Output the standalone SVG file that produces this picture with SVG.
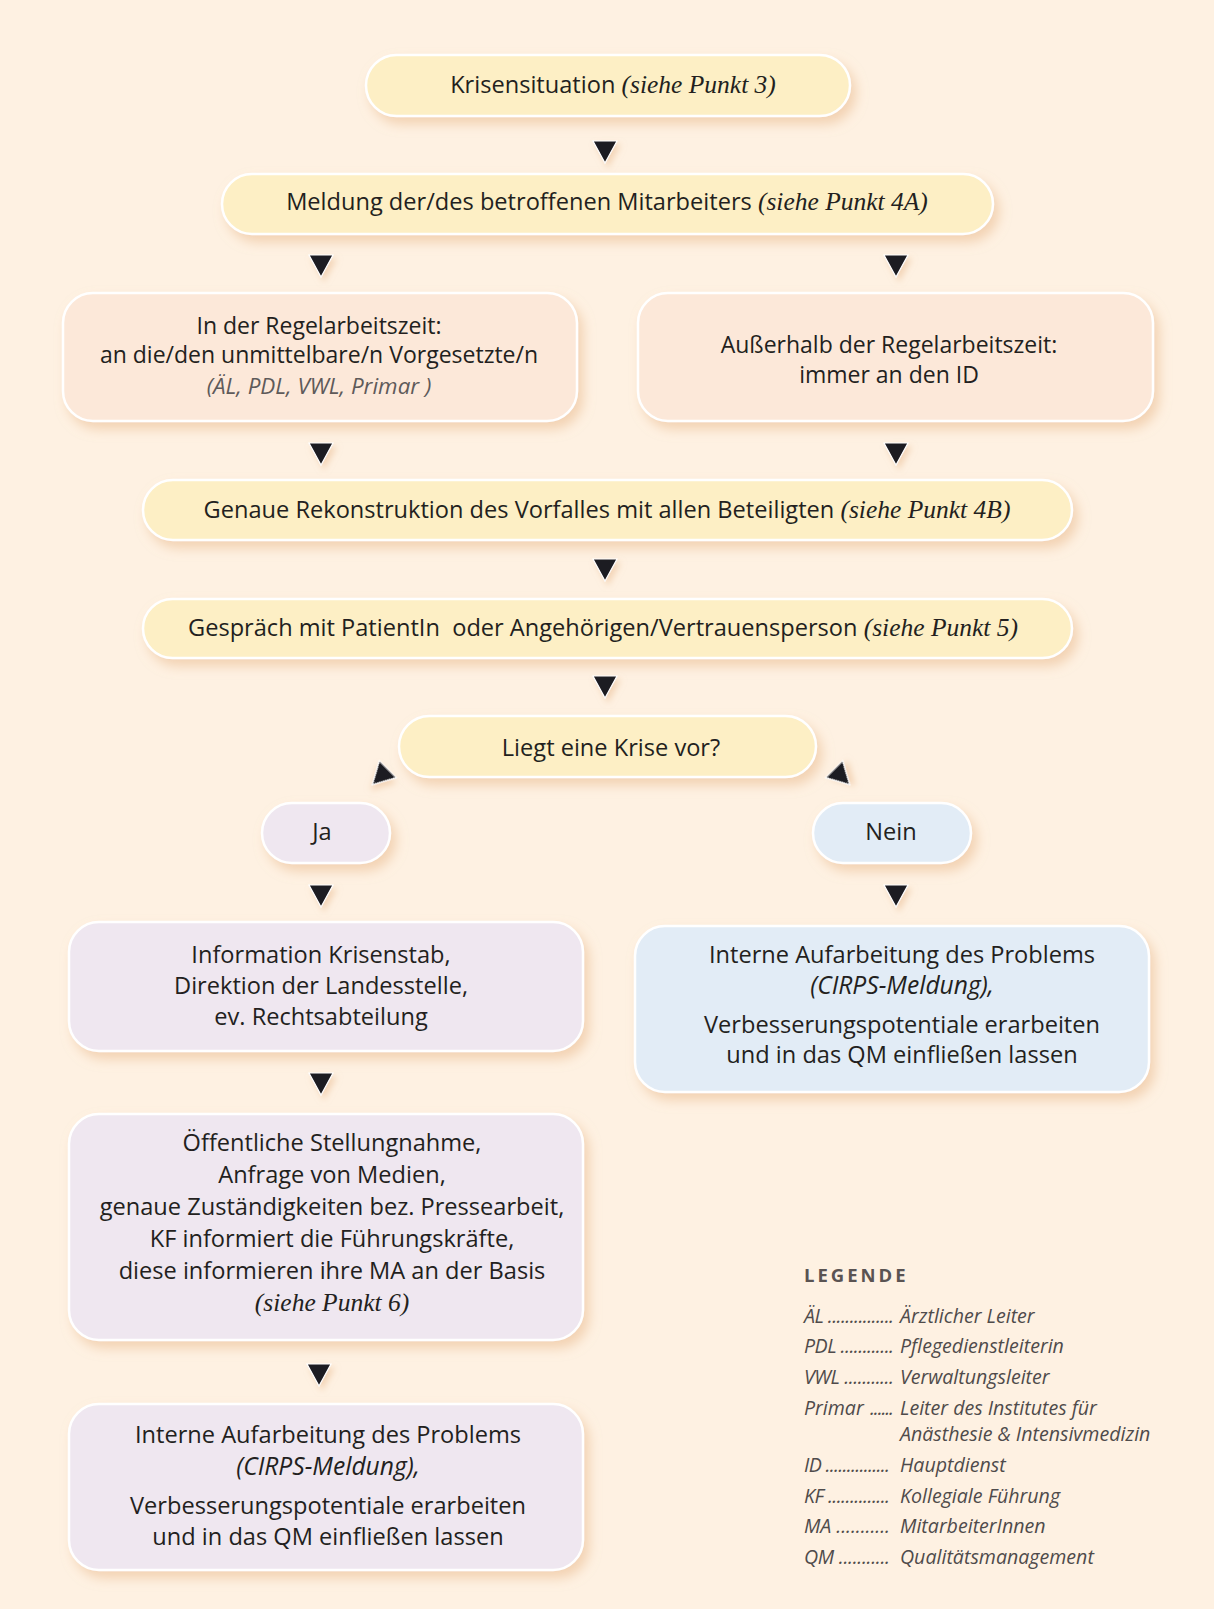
<svg xmlns="http://www.w3.org/2000/svg" width="1214" height="1609" viewBox="0 0 1214 1609">
<style>
.t{font-family:"Open Sans","Noto Sans",sans-serif;font-size:23.6px;fill:#231f20;text-anchor:middle}
.s{font-size:23px}
.ser{font-family:"Liberation Serif",serif;font-style:italic;font-size:25.5px}
.it{font-style:italic;font-size:24.6px}
.gr{fill:#5e5a5a;font-size:22.4px}
.box{stroke:#ffffff;stroke-width:2.5;filter:url(#sh)}
.y{fill:#fdefc5}
.p{fill:#fce8d9}
.l{fill:#efe7f0}
.b{fill:#e2ecf6}
.arr{fill:#1f1d22;stroke:#ffffff;stroke-width:1.2;filter:url(#sh2)}
.lg{font-family:"Open Sans","Noto Sans",sans-serif;font-size:19.6px;font-style:italic;fill:#4f4b4b}
.lh{font-family:"Open Sans","Noto Sans",sans-serif;font-size:18.5px;font-weight:bold;letter-spacing:3px;fill:#5a5352}
</style>
<defs>
<filter id="sh" x="-20%" y="-30%" width="140%" height="170%">
<feDropShadow dx="5" dy="7" stdDeviation="6" flood-color="#e9b98c" flood-opacity="0.55"/>
</filter>
<filter id="sh2" x="-50%" y="-50%" width="200%" height="200%">
<feDropShadow dx="3" dy="4" stdDeviation="3" flood-color="#e9b98c" flood-opacity="0.5"/>
</filter>
<polygon id="ah" points="-12,-11 12,-11 0,11"/>
</defs>
<rect x="0" y="0" width="1214" height="1609" fill="#fef1e2"/>

<g id="connectors">
<use href="#ah" class="arr" transform="translate(605,152)"/>
<use href="#ah" class="arr" transform="translate(321,266)"/>
<use href="#ah" class="arr" transform="translate(896,266)"/>
<use href="#ah" class="arr" transform="translate(321,454)"/>
<use href="#ah" class="arr" transform="translate(896,454)"/>
<use href="#ah" class="arr" transform="translate(605,570)"/>
<use href="#ah" class="arr" transform="translate(605,687)"/>
<use href="#ah" class="arr" transform="translate(380,777) rotate(45)"/>
<use href="#ah" class="arr" transform="translate(842,777) rotate(-45)"/>
<use href="#ah" class="arr" transform="translate(321,896)"/>
<use href="#ah" class="arr" transform="translate(896,896)"/>
<use href="#ah" class="arr" transform="translate(321,1084)"/>
<use href="#ah" class="arr" transform="translate(319,1375)"/>
</g>

<g id="n-krisensituation">
<rect class="box y" x="366" y="55" width="484" height="61" rx="30.5"/>
<text class="t" x="613" y="93">Krisensituation <tspan class="ser">(siehe Punkt 3)</tspan></text>
</g>
<g id="n-meldung">
<rect class="box y" x="222" y="174" width="771" height="60" rx="30"/>
<text class="t" x="607" y="210">Meldung der/des betroffenen Mitarbeiters <tspan class="ser">(siehe Punkt 4A)</tspan></text>
</g>
<g id="n-regel">
<rect class="box p" x="63" y="293" width="514" height="128" rx="30"/>
<text class="t s" x="319" y="334">In der Regelarbeitszeit:</text>
<text class="t s" x="319" y="363">an die/den unmittelbare/n Vorgesetzte/n</text>
<text class="t it gr" x="319" y="394">(ÄL, PDL, VWL, Primar )</text>
</g>
<g id="n-ausserhalb">
<rect class="box p" x="638" y="293" width="515" height="128" rx="30"/>
<text class="t s" x="889" y="353">Außerhalb der Regelarbeitszeit:</text>
<text class="t s" x="889" y="383">immer an den ID</text>
</g>
<g id="n-rekonstruktion">
<rect class="box y" x="143" y="480" width="929" height="60" rx="30"/>
<text class="t" x="607" y="518">Genaue Rekonstruktion des Vorfalles mit allen Beteiligten <tspan class="ser">(siehe Punkt 4B)</tspan></text>
</g>
<g id="n-gespraech">
<rect class="box y" x="143" y="599" width="929" height="59" rx="29.5"/>
<text class="t" x="603" y="636">Gespräch mit PatientIn&#160; oder Angehörigen/Vertrauensperson <tspan class="ser">(siehe Punkt 5)</tspan></text>
</g>
<g id="n-krise">
<rect class="box y" x="399" y="716" width="417" height="61" rx="30.5"/>
<text class="t" x="611" y="756">Liegt eine Krise vor?</text>
</g>
<g id="n-ja">
<rect class="box l" x="262" y="803" width="128" height="60" rx="30"/>
<text class="t" x="322" y="840">Ja</text>
</g>
<g id="n-nein">
<rect class="box b" x="813" y="803" width="158" height="60" rx="30"/>
<text class="t" x="891" y="840">Nein</text>
</g>
<g id="n-information">
<rect class="box l" x="69" y="922" width="514" height="129" rx="30"/>
<text class="t" x="321" y="963">Information Krisenstab,</text>
<text class="t" x="321" y="994">Direktion der Landesstelle,</text>
<text class="t" x="321" y="1025">ev. Rechtsabteilung</text>
</g>
<g id="n-intern-rechts">
<rect class="box b" x="635" y="926" width="514" height="166" rx="30"/>
<text class="t" x="902" y="963">Interne Aufarbeitung des Problems</text>
<text class="t it" x="902" y="994">(CIRPS-Meldung),</text>
<text class="t" x="902" y="1033">Verbesserungspotentiale erarbeiten</text>
<text class="t" x="902" y="1063">und in das QM einfließen lassen</text>
</g>
<g id="n-oeffentlich">
<rect class="box l" x="69" y="1114" width="514" height="226" rx="30"/>
<text class="t" x="332" y="1151">Öffentliche Stellungnahme,</text>
<text class="t" x="332" y="1183">Anfrage von Medien,</text>
<text class="t" x="332" y="1215">genaue Zuständigkeiten bez. Pressearbeit,</text>
<text class="t" x="332" y="1247">KF informiert die Führungskräfte,</text>
<text class="t" x="332" y="1279">diese informieren ihre MA an der Basis</text>
<text class="t ser" x="332" y="1311">(siehe Punkt 6)</text>
</g>
<g id="n-intern-links">
<rect class="box l" x="69" y="1404" width="514" height="166" rx="30"/>
<text class="t" x="328" y="1443">Interne Aufarbeitung des Problems</text>
<text class="t it" x="328" y="1475">(CIRPS-Meldung),</text>
<text class="t" x="328" y="1514">Verbesserungspotentiale erarbeiten</text>
<text class="t" x="328" y="1545">und in das QM einfließen lassen</text>
</g>

<g id="legende">
<text class="lh" x="804" y="1282">LEGENDE</text>
<text class="lg" x="804" y="1323" textLength="90" lengthAdjust="spacing">ÄL ...............</text>
<text class="lg" x="900" y="1323">Ärztlicher Leiter</text>
<text class="lg" x="804" y="1353" textLength="90" lengthAdjust="spacing">PDL ............</text>
<text class="lg" x="900" y="1353">Pflegedienstleiterin</text>
<text class="lg" x="804" y="1384" textLength="90" lengthAdjust="spacing">VWL ...........</text>
<text class="lg" x="900" y="1384">Verwaltungsleiter</text>
<text class="lg" x="804" y="1415">Primar</text>
<text class="lg" x="870" y="1415" textLength="24" lengthAdjust="spacing">......</text>
<text class="lg" x="900" y="1415">Leiter des Institutes für</text>
<text class="lg" x="900" y="1441">Anästhesie &amp; Intensivmedizin</text>
<text class="lg" x="804" y="1472" textLength="86" lengthAdjust="spacing">ID ...............</text>
<text class="lg" x="900" y="1472">Hauptdienst</text>
<text class="lg" x="804" y="1503" textLength="86" lengthAdjust="spacing">KF ..............</text>
<text class="lg" x="900" y="1503">Kollegiale Führung</text>
<text class="lg" x="804" y="1533" textLength="86" lengthAdjust="spacing">MA ...........</text>
<text class="lg" x="900" y="1533">MitarbeiterInnen</text>
<text class="lg" x="804" y="1564" textLength="86" lengthAdjust="spacing">QM ...........</text>
<text class="lg" x="900" y="1564">Qualitätsmanagement</text>
</g>
</svg>
